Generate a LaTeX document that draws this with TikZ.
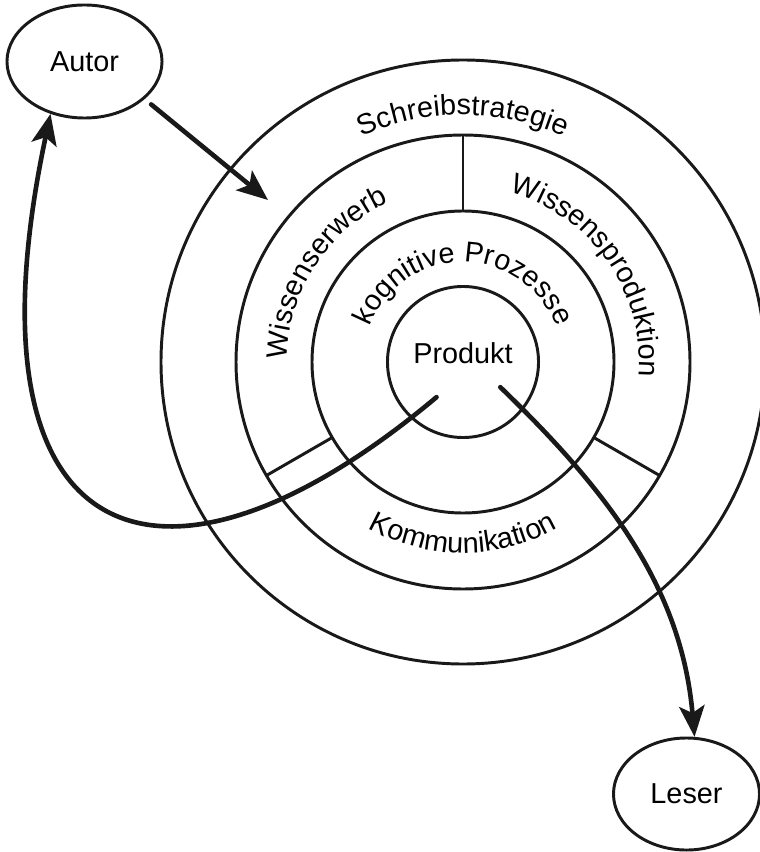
\documentclass[tikz,border=0pt]{standalone}
\usepackage{fontspec}
\setmainfont{Liberation Sans}
\usepackage{tikz}
\usetikzlibrary{arrows.meta,positioning,shapes.geometric,decorations.text}
\newcommand\ringfont{\fontsize{20.5}{24}\selectfont}
\tikzset{
  sring/.style={draw=black!90,line width=2.1pt},
  sactor/.style={ellipse,draw=black!90,line width=2.1pt,inner sep=0pt,font=\ringfont},
  score/.style={circle,draw=black!90,line width=2.1pt,minimum size=3.775cm,inner sep=0pt,
    text height=0.525cm,text depth=0.45cm,font=\ringfont},
  sflow/.style={-{Stealth[length=22pt,width=18pt,inset=5pt]},draw=black!90,line width=3.3pt,line cap=round},
  slabel/.style={decorate,decoration={text along path,text={|\ringfont|#1},text align=center}}
}
\begin{document}
\begin{tikzpicture}[x=0.025cm,y=0.025cm]
  \useasboundingbox (0,0) rectangle (760,-852);
  \coordinate (ctr) at (463,-362);
  \draw[sring] (ctr) circle[radius=302];
  \draw[sring] (ctr) circle[radius=227];
  \draw[sring] (ctr) circle[radius=151];
  \foreach \a in {90,210,330}
    \draw[sring] ([shift={(\a:151)}]ctr) -- ([shift={(\a:227)}]ctr);
  \node[score] (produkt) at (ctr) {Produkt};
  \node[sactor,minimum width=3.875cm,minimum height=2.825cm] (autor) at (84.5,-61.5) {Autor};
  \node[sactor,minimum width=3.65cm,minimum height=2.8cm] (leser) at (686.5,-794) {Leser};
  \path[slabel=Schreibstrategie] ([shift={(150:247)}]ctr) arc[start angle=150,end angle=30,radius=247];
  \path[slabel=Wissenserwerb] ([shift={(202:176)}]ctr) arc[start angle=202,end angle=92,radius=176];
  \path[slabel=Wissensproduktion] ([shift={(88:176)}]ctr) arc[start angle=88,end angle=-18,radius=176];
  \path[slabel={kognitive Prozesse}] ([shift={(180:100)}]ctr) arc[start angle=180,end angle=0,radius=100];
  \path[slabel=Kommunikation] ([shift={(225:191)}]ctr) arc[start angle=225,end angle=315,radius=191];
  \coordinate (entry) at (268,-200);
  \coordinate (outa) at ([shift={(233:44)}]produkt.center);
  \coordinate (outl) at ([shift={(-34:45)}]produkt.center);
  \draw[sflow,shorten <=6pt] (autor.-32) -- (entry);
  \draw[sflow] (outa) .. controls +(220:360) and +(258:450) .. (autor.237);
  \draw[sflow] (outl) .. controls +(-44:150) and +(95:150) .. (leser.82);
\end{tikzpicture}
\end{document}
